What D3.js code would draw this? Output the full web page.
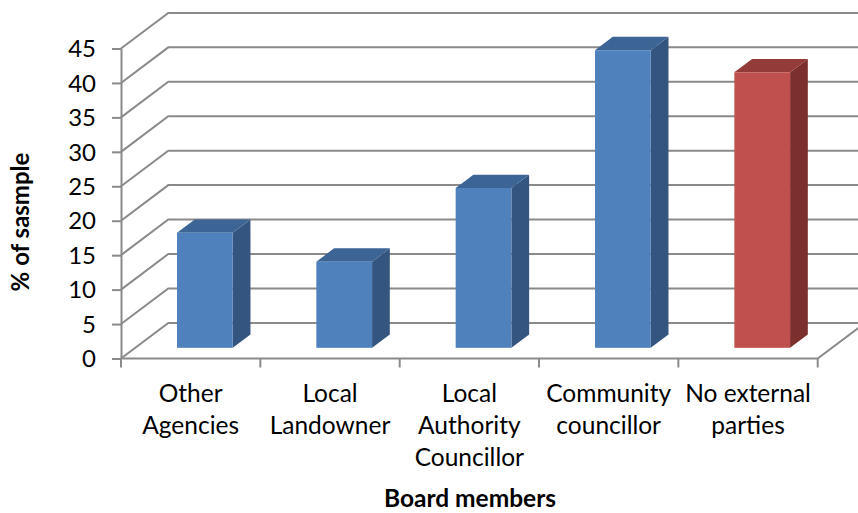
<!DOCTYPE html>
<html>
<head>
<meta charset="utf-8">
<script src="https://cdn.jsdelivr.net/npm/d3@7/dist/d3.min.js"></script>
<style>
  html, body { margin: 0; padding: 0; background: #fff; }
  svg { display: block; }
  text { font-family: Lato, "Open Sans", sans-serif; fill: #000; }
</style>
</head>
<body>
<svg id="chart" width="858" height="513"></svg>
<script>
// Board member categories (line breaks as shown under the axis)
const categories = [
  "Other Agencies",
  "Local Landowner",
  "Local Authority Councillor",
  "Community councillor",
  "No external parties"
];
const categoryLines = [
  ["Other", "Agencies"],
  ["Local", "Landowner"],
  ["Local", "Authority", "Councillor"],
  ["Community", "councillor"],
  ["No external", "parties"]
];
// % of sample
const values = [16.7, 12.5, 23.2, 43.2, 40.0];
const barKinds = ["member", "member", "member", "member", "none"];
const yTicks = [0, 5, 10, 15, 20, 25, 30, 35, 40, 45];

const W = 858, H = 513;
const svg = d3.select("#chart");

// Oblique 3D projection: full depth of the plot box
const depth = { dx: 47.3, dy: -35.6 };
const barFront = 0.30, barBack = 0.675;   // bar depth as fraction of the box depth

const x = d3.scaleBand().domain(categories).range([121, 817.7]).paddingInner(0).paddingOuter(0);
const y = d3.scaleLinear().domain([0, 45]).range([358.5, 48.5]);

const gridColor = "#8a8a8a";
const palette = {
  member: { front: "#4f81bd", side: "#34557f", top: "#3c6596" },
  none:   { front: "#c0504d", side: "#7c302e", top: "#933b38" }
};

const plot = svg.append("g");
svg.append("defs").append("clipPath").attr("id", "clip")
  .append("rect").attr("x", 0).attr("y", 0).attr("width", W).attr("height", H);

// Walls: side-wall diagonals and back-wall horizontal gridlines
const grid = plot.append("g").attr("clip-path", "url(#clip)")
  .attr("fill", "none").attr("stroke", gridColor).attr("stroke-width", 2);
const x0 = x.range()[0], x1 = x.range()[1];
yTicks.forEach(t => {
  const py = y(t);
  grid.append("path")
    .attr("d", `M${x0},${py} L${x0 + depth.dx},${py + depth.dy} L${W + 10},${py + depth.dy}`);
});
// Floor front edge and right-hand floor diagonal
grid.append("path")
  .attr("d", `M${x0},${y(0)} L${x1},${y(0)} L${x1 + depth.dx},${y(0) + depth.dy}`);

// Bars
const bw = x.bandwidth() * 0.4;
const fdx = depth.dx * barFront, fdy = depth.dy * barFront;
const ddx = depth.dx * (barBack - barFront), ddy = depth.dy * (barBack - barFront);

const bars = plot.append("g").selectAll("g.bar")
  .data(categories.map((c, i) => ({ c, v: values[i], kind: barKinds[i] })))
  .join("g").attr("class", "bar");

bars.each(function (d) {
  const g = d3.select(this);
  const col = palette[d.kind];
  const left = x(d.c) + (x.bandwidth() - bw) / 2 + fdx;
  const right = left + bw;
  const bottom = y(0) + fdy;
  const top = y(d.v) + fdy;
  // right side
  g.append("path")
    .attr("d", `M${right},${bottom} L${right + ddx},${bottom + ddy} L${right + ddx},${top + ddy} L${right},${top} Z`)
    .attr("fill", col.side);
  // top
  g.append("path")
    .attr("d", `M${left},${top} L${right},${top} L${right + ddx},${top + ddy} L${left + ddx},${top + ddy} Z`)
    .attr("fill", col.top);
  // front
  g.append("rect")
    .attr("x", left).attr("y", top).attr("width", bw).attr("height", bottom - top)
    .attr("fill", col.front);
});

// Value axis
const yAxis = d3.axisLeft(y).tickValues(yTicks).tickSize(9).tickSizeOuter(0).tickPadding(16);
const gy = svg.append("g").attr("transform", `translate(${x0},0)`).call(yAxis);
gy.select(".domain").attr("stroke", gridColor).attr("stroke-width", 2);
gy.selectAll(".tick line").attr("stroke", gridColor).attr("stroke-width", 2);
gy.selectAll(".tick text")
  .attr("font-family", "Lato, 'Open Sans', sans-serif")
  .attr("font-size", 24).attr("fill", "#000").attr("dy", "0.34em");

// Category axis tick marks at band boundaries
const edges = categories.map(c => x(c)).concat([x1]);
svg.append("g").selectAll("line").data(edges).join("line")
  .attr("x1", d => d).attr("x2", d => d)
  .attr("y1", y(0)).attr("y2", y(0) + 9)
  .attr("stroke", gridColor).attr("stroke-width", 2);

// Category labels
const labels = svg.append("g").attr("font-size", 24.5).attr("text-anchor", "middle");
categories.forEach((c, i) => {
  const t = labels.append("text").attr("x", x(c) + x.bandwidth() / 2).attr("y", 401.5);
  categoryLines[i].forEach((line, k) => {
    t.append("tspan").attr("x", x(c) + x.bandwidth() / 2).attr("y", 401.5 + k * 32.3).text(line);
  });
});

// Axis titles
svg.append("text")
  .attr("x", 470).attr("y", 507)
  .attr("text-anchor", "middle").attr("font-weight", "bold").attr("font-size", 24.5)
  .text("Board members");
svg.append("text")
  .attr("transform", "translate(29,222) rotate(-90)")
  .attr("text-anchor", "middle").attr("font-weight", "bold").attr("font-size", 24)
  .text("% of sasmple");
</script>
</body>
</html>
